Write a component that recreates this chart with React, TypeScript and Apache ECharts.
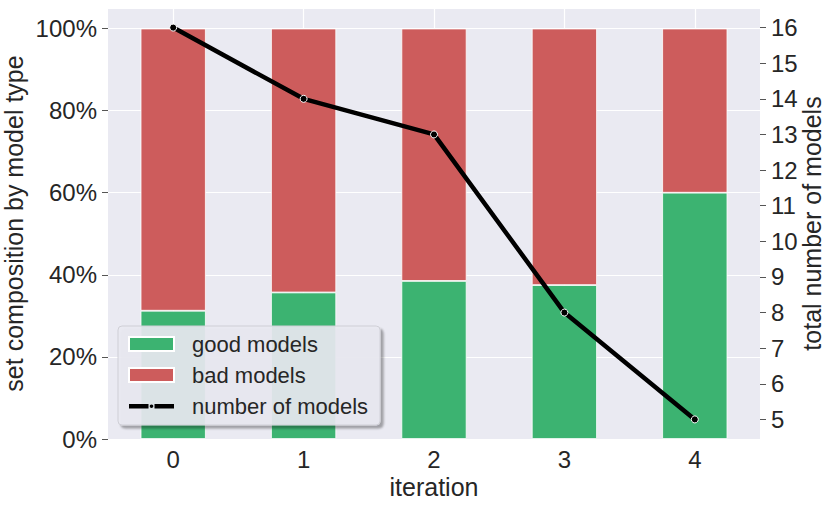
import React, { useEffect, useRef } from "react";
import * as echarts from "echarts";

const iterations = ["0", "1", "2", "3", "4"];
const goodShare = [0.3125, 0.357, 0.385, 0.375, 0.6];
const badShare = [0.6875, 0.643, 0.615, 0.625, 0.4];
const modelCounts = [16, 14, 13, 8, 5];
const countTicks = [5, 6, 7, 8, 9, 10, 11, 12, 13, 14, 15, 16];
const centerTicks = [0, 1, 2, 3, 4];

const FONT = "Liberation Sans, Arial, sans-serif";
const TXT = "#262626";
const LINE_ICON =
  "path://M0,0l0.2,0l-0.2,0.2z M0,5h19.5v4.4h-19.5z M25.5,5h19.5v4.4h-19.5z M22.5,5.4a1.8,1.8 0 1,0 0.01,0z M45,14l-0.2,0l0.2,-0.2z";

export default function App() {
  const ref = useRef<HTMLDivElement>(null);
  useEffect(() => {
    if (!ref.current) return;
    const chart = echarts.init(ref.current, undefined, { renderer: "svg" });
    chart.setOption({
      animation: false,
      backgroundColor: "#ffffff",
      textStyle: { fontFamily: FONT },
      grid: {
        left: 108,
        top: 8,
        right: 71,
        bottom: 68,
        show: true,
        backgroundColor: "#eaeaf2",
        borderWidth: 0,
        containLabel: false,
        outerBoundsMode: "none",
      },
      legend: {
        left: 118,
        top: 326,
        orient: "vertical",
        padding: [7, 12, 8, 10],
        itemGap: 9,
        itemWidth: 45,
        itemHeight: 14,
        symbolKeepAspect: true,
        backgroundColor: "rgba(234,234,242,0.9)",
        borderColor: "#cfcfd6",
        borderWidth: 1,
        borderRadius: 4,
        shadowColor: "rgba(0,0,0,0.35)",
        shadowBlur: 2,
        shadowOffsetX: 3,
        shadowOffsetY: 3,
        textStyle: { color: TXT, fontSize: 22, fontFamily: FONT, padding: [0, 0, 0, 13], lineHeight: 22 },
        data: [
          { name: "good models", icon: "rect" },
          { name: "bad models", icon: "rect" },
          {
            name: "number of models",
            icon: LINE_ICON,
            itemStyle: { color: "#000000", borderWidth: 0 },
          },
        ],
      },
      xAxis: [
        {
          type: "category",
          data: iterations,
          boundaryGap: true,
          axisLine: { show: false, onZero: false },
          axisTick: { show: false },
          splitLine: { show: false },
          axisLabel: { color: TXT, fontSize: 24, margin: 8, fontFamily: FONT },
          name: "iteration",
          nameLocation: "middle",
          nameGap: 35,
          nameMoveOverlap: false,
          nameTextStyle: { color: TXT, fontSize: 25, fontFamily: FONT },
        },
        {
          type: "value",
          min: -0.5,
          max: 4.5,
          show: true,
          position: "bottom",
          axisLine: { show: false, onZero: false },
          axisLabel: { show: false },
          axisTick: { show: false, customValues: centerTicks },
          splitLine: { show: true, lineStyle: { color: "#ffffff", width: 1.2 } },
        },
      ],
      yAxis: [
        {
          type: "value",
          min: 0,
          max: 1.05,
          interval: 0.2,
          position: "left",
          axisLine: { show: false, onZero: false },
          axisTick: { show: true, length: 6, lineStyle: { color: "#555" } },
          splitLine: { show: true, lineStyle: { color: "#ffffff", width: 1.2 } },
          axisLabel: {
            color: TXT,
            fontSize: 24,
            margin: 11,
            fontFamily: FONT,
            showMaxLabel: false,
            formatter: (v: number) => Math.round(v * 100) + "%",
          },
          name: "set composition by model type",
          nameLocation: "middle",
          nameRotate: 90,
          nameGap: 82,
          nameMoveOverlap: false,
          nameTextStyle: { color: TXT, fontSize: 25, fontFamily: FONT },
        },
        {
          type: "value",
          min: 4.45,
          max: 16.55,
          position: "right",
          axisLine: { show: false, onZero: false },
          axisTick: { show: true, length: 6, customValues: countTicks, lineStyle: { color: "#555" } },
          splitLine: { show: false },
          axisLabel: { color: TXT, fontSize: 24, margin: 11, fontFamily: FONT, customValues: countTicks },
          name: "total number of models",
          nameLocation: "middle",
          nameRotate: 90,
          nameGap: 39,
          nameMoveOverlap: false,
          nameTextStyle: { color: TXT, fontSize: 25, fontFamily: FONT },
        },
      ],
      series: [
        {
          name: "good models",
          type: "bar",
          stack: "share",
          data: goodShare,
          barWidth: "50%",
          itemStyle: { color: "#3cb371", borderColor: "#ffffff", borderWidth: 0.8 },
          z: 2,
        },
        {
          name: "bad models",
          type: "bar",
          stack: "share",
          data: badShare,
          barWidth: "50%",
          itemStyle: { color: "#cd5c5c", borderColor: "#ffffff", borderWidth: 0.8 },
          z: 2,
        },
        {
          name: "number of models",
          type: "line",
          yAxisIndex: 1,
          data: modelCounts,
          symbol: "circle",
          symbolSize: 7,
          lineStyle: { color: "#000000", width: 4.5 },
          itemStyle: { color: "#000000", borderColor: "#ffffff", borderWidth: 1 },
          z: 5,
        },
      ],
    });
    return () => chart.dispose();
  }, []);
  return (
    <div
      ref={ref}
      style={{ position: "fixed", left: 0, top: 0, width: 831, height: 507 }}
    />
  );
}
